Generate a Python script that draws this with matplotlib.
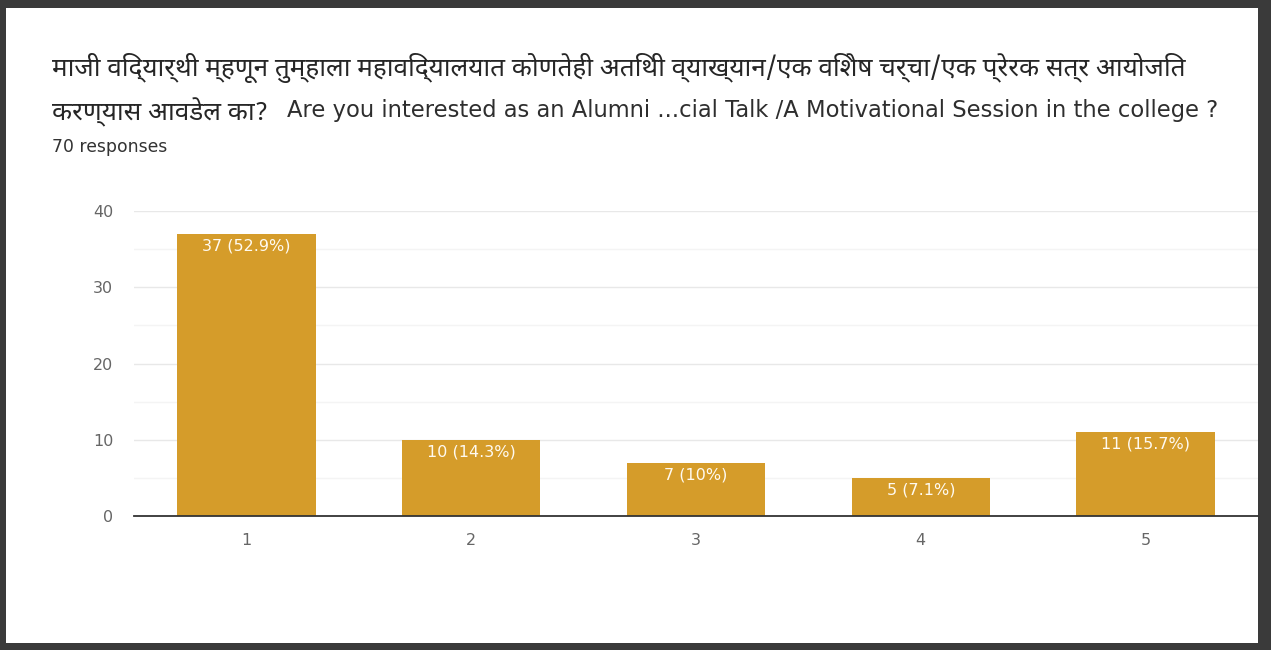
import matplotlib
matplotlib.use("Agg")
import matplotlib.pyplot as plt
from matplotlib import font_manager
from matplotlib.patches import Rectangle

# survey answers: rating 1..5 and how many picked each
categories = ["1", "2", "3", "4", "5"]
counts = [37, 10, 7, 5, 11]
total = 70
y_ticks = [0, 10, 20, 30, 40]

title_mr_1 = "माजी विद्यार्थी म्हणून तुम्हाला महाविद्यालयात कोणतेही अतिथी व्याख्यान/एक विशेष चर्चा/एक प्रेरक सत्र आयोजित"
title_mr_2 = "करण्यास आवडेल का?"
title_en = "Are you interested as an Alumni ...cial Talk /A Motivational Session in the college ?"
subtitle = f"{total} responses"

W, H = 1271, 650
bar_color = "#D59C2A"
latin = "DejaVu Sans"

# pick a Devanagari face
installed = {f.name for f in font_manager.fontManager.ttflist}
deva = "DejaVu Sans"
for name in ["Noto Sans Devanagari", "Hind", "Mukta", "Martel Sans", "Akshar"]:
    if name in installed:
        deva = name
        break


def fx(x):
    return x / W


def fy(y):
    return 1 - y / H


fig = plt.figure(figsize=(W / 100, H / 100), dpi=100)
fig.patch.set_facecolor("#3a3a3a")
# white card inside the dark frame
fig.patches.append(Rectangle((fx(6), fy(643)), fx(1258) - fx(6), fy(8) - fy(643),
                             transform=fig.transFigure, facecolor="white",
                             edgecolor="none", zorder=-1))

t1 = fig.text(fx(52), fy(68), title_mr_1, family=[deva, latin], fontsize=16,
              color="#262626", va="center", ha="left")
t2 = fig.text(fx(52), fy(112), title_mr_2, family=[deva, latin], fontsize=16,
              color="#262626", va="center", ha="left")
t3 = fig.text(fx(287), fy(111), title_en, family=latin, fontsize=15,
              color="#2e2e2e", va="center", ha="left")
t4 = fig.text(fx(52), fy(147), subtitle, family=latin, fontsize=10.5,
              color="#333333", va="center", ha="left")

ax = fig.add_axes([fx(134), fy(516), fx(1258) - fx(134), fy(211) - fy(516)])
ax.set_facecolor("none")

x = list(range(1, len(categories) + 1))
bars = ax.bar(x, counts, width=0.615, color=bar_color, zorder=2)

for b, c in zip(bars, counts):
    pct = f"{100 * c / total:.1f}".rstrip("0").rstrip(".")
    ax.annotate(f"{c} ({pct}%)", (b.get_x() + b.get_width() / 2, c),
                xytext=(0, -3.5), textcoords="offset points", ha="center", va="top",
                color="#fffaf0", fontsize=11.5, family=latin, zorder=3)

ax.set_xlim(0.5, 5.5)
ax.set_ylim(0, 40)
ax.set_xticks(x)
ax.set_xticklabels(categories)
ax.set_yticks(y_ticks)
ax.set_yticks([5, 15, 25, 35], minor=True)
ax.grid(axis="y", which="major", color="#e8e8e8", linewidth=1, zorder=0)
ax.grid(axis="y", which="minor", color="#f4f4f4", linewidth=1, zorder=0)
ax.axhline(0, color="#333333", linewidth=1.3, zorder=4, clip_on=False)

for s in ax.spines.values():
    s.set_visible(False)
ax.tick_params(axis="both", which="both", length=0, labelsize=11.5, labelcolor="#666666")
ax.tick_params(axis="y", pad=15)
ax.tick_params(axis="x", pad=12)
for lbl in ax.get_xticklabels() + ax.get_yticklabels():
    lbl.set_family(latin)

# size the heading lines to the width they take up
r = fig.canvas.get_renderer()
for t, width in [(t1, 1138), (t3, 931), (t4, 116)]:
    w = t.get_window_extent(r).width
    t.set_fontsize(t.get_fontsize() * width / w)
t2.set_fontsize(t1.get_fontsize())

fig.savefig("out.png", dpi=100, facecolor=fig.get_facecolor())
